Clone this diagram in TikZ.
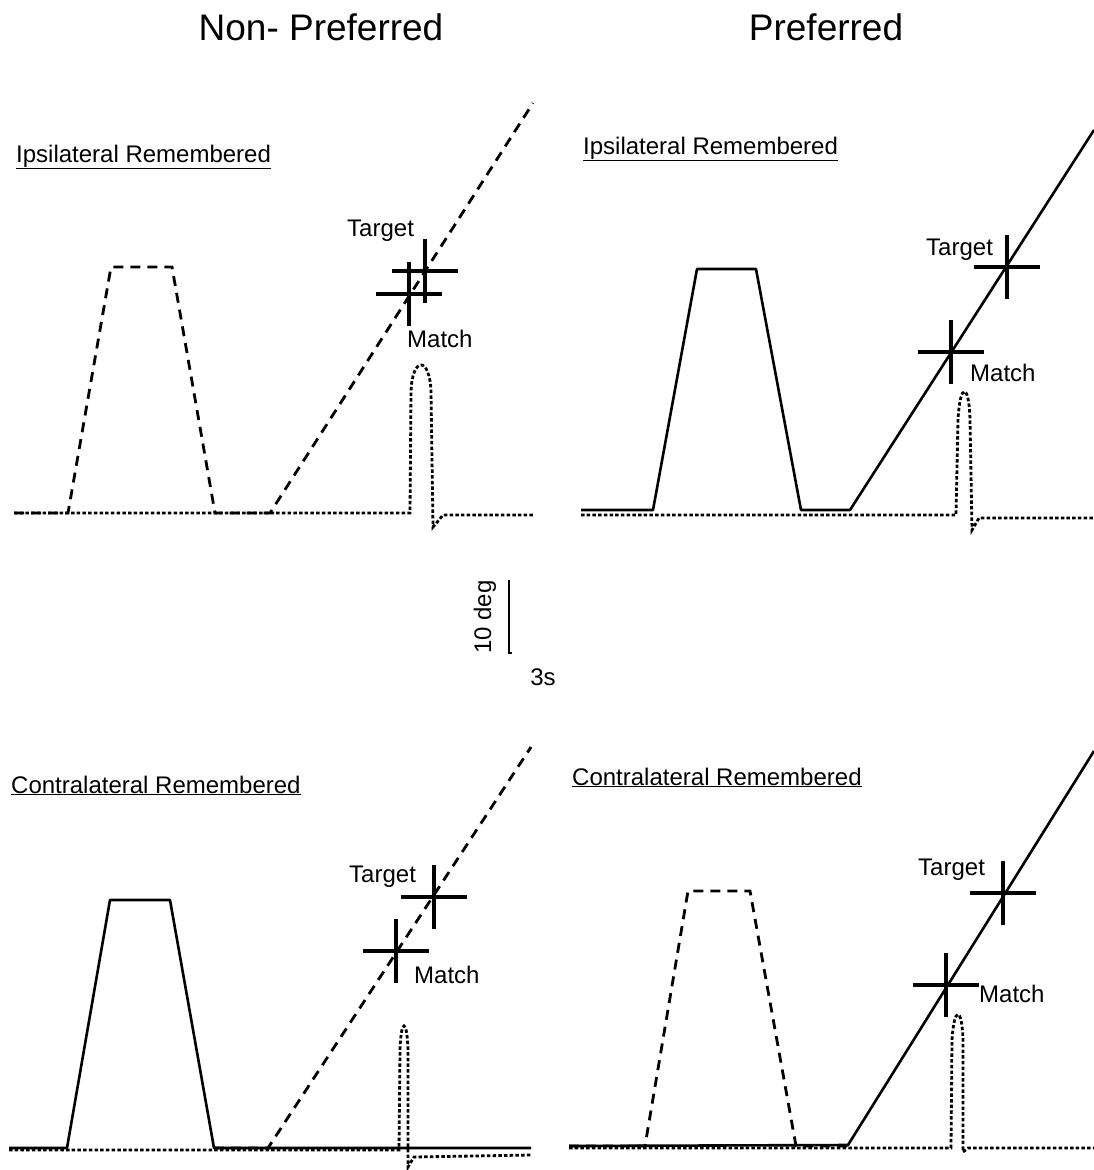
\documentclass[tikz,border=0pt]{standalone}
\usepackage{fontspec}
\setmainfont{Liberation Sans}
\usepackage{tikz}
\usetikzlibrary{positioning}

\begin{document}
\begin{tikzpicture}[x=1pt, y=-1pt,
        solidtrace/.style={line width=2.6pt, line join=round},
        dashtrace/.style={line width=2.8pt, dash pattern=on 10pt off 7pt},
        dottrace/.style={line width=2.8pt, dash pattern=on 3.5pt off 2.2pt},
        crosshair/.style={line width=4pt},
        lbl/.style={font=\fontsize{24}{28}\selectfont, inner sep=0pt, anchor=base west},
        ttl/.style={font=\fontsize{37}{44}\selectfont, inner sep=0pt, anchor=base}]
        \useasboundingbox (0,0) rectangle (1094,1170);

        % Column headings
        \node[ttl] (hnon) at (321,40) {Non- Preferred};
        \node[ttl] (hpref) at (826,40) {Preferred};

        % Panel titles
        \node[lbl] (ipsiA) at (16,162) {\underline{Ipsilateral Remembered}};
        \node[lbl] (ipsiB) at (583,154) {\underline{Ipsilateral Remembered}};
        \node[lbl] (contA) at (11,793) {\underline{Contralateral Remembered}};
        \node[lbl] (contB) at (572,785) {\underline{Contralateral Remembered}};

        % Top left
        \draw[dottrace] (14,513) -- (410,513) -- (411,392) .. controls (412,356) and (430,356) .. (431,392)
            -- (433,527) -- (443,515) -- (533,515);
        \draw[dashtrace] (14,513) -- (68,513) -- (111,267) -- (172,267) -- (215,513) -- (270,513) -- (533,103);
        \coordinate (t1) at (425,271);
        \coordinate (m1) at (409,294);
        \node[lbl] (tl1) at (347,236) {Target};
        \node[lbl] (ml1) at (407,347) {Match};

        % Top right
        \draw[dottrace] (581,515) -- (956,515) -- (958,420) .. controls (960,382) and (969,382) .. (970,420)
            -- (972,530) -- (979,518) -- (1094,518);
        \draw[solidtrace] (581,510) -- (653,510) -- (697,269) -- (756,269) -- (801,510) -- (850,510) -- (1094,130);
        \coordinate (t2) at (1007,267);
        \coordinate (m2) at (951,352);
        \node[lbl] (tl2) at (926,255) {Target};
        \node[lbl] (ml2) at (970,381) {Match};

        % Bottom left
        \draw[dottrace] (9,1150) -- (399,1150) -- (400,1050) .. controls (401,1018) and (407,1018) .. (408,1050)
            -- (408,1167) -- (414,1157) -- (531,1155);
        \draw[solidtrace] (9,1148) -- (67,1148) -- (110,900) -- (170,900) -- (214,1148) -- (531,1148);
        \draw[dashtrace] (214,1148) -- (268,1148) -- (531,747);
        \coordinate (t3) at (434,897);
        \coordinate (m3) at (396,951);
        \node[lbl] (tl3) at (349,882) {Target};
        \node[lbl] (ml3) at (414,983) {Match};

        % Bottom right
        \draw[dottrace] (569,1148) -- (951,1148) -- (952,1040) .. controls (954,1006) and (962,1006) .. (963,1040)
            -- (963,1152) -- (968,1148) -- (1094,1148);
        \draw[dashtrace] (569,1146) -- (645,1146) -- (688,891) -- (750,891) -- (796,1146) -- (848,1146);
        \draw[solidtrace] (569,1146) -- (848,1145) -- (1094,751);
        \coordinate (t4) at (1003,893);
        \coordinate (m4) at (946,985);
        \node[lbl] (tl4) at (918,875) {Target};
        \node[lbl] (ml4) at (979,1002) {Match};

        % Crosses
        \foreach \c in {t1,m1,t2,m2,t3,m3,t4,m4}
            \draw[crosshair] (\c) +(-33,0) -- +(33,0) +(0,-32) -- +(0,32);

        % Scale bar
        \draw[line width=1.8pt] (509,580) -- (509,653) -- (512,653);
        \node[lbl, anchor=center, rotate=90] (sdeg) at (485,617) {10 deg};
        \node[lbl, anchor=center] (ssec) at (543,677) {3s};
    \end{tikzpicture}
\end{document}
